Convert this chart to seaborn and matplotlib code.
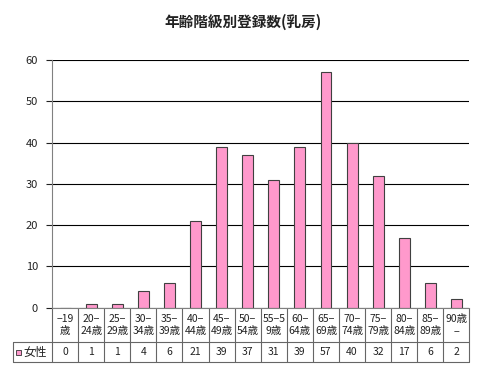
import matplotlib
matplotlib.use("Agg")
import matplotlib.pyplot as plt
import matplotlib.transforms as mtransforms
import seaborn as sns
import pandas as pd

# ----------------------------------------
# Data
# ----------------------------------------
age_groups = ["−19\n歳", "20−\n24歳", "25−\n29歳", "30−\n34歳", "35−\n39歳",
              "40−\n44歳", "45−\n49歳", "50−\n54歳", "55−5\n9歳", "60−\n64歳",
              "65−\n69歳", "70−\n74歳", "75−\n79歳", "80−\n84歳", "85−\n89歳",
              "90歳\n−"]
# counts for women (first group -19 has 0)
counts = [0, 1, 1, 4, 6, 21, 39, 37, 31, 39, 57, 40, 32, 17, 6, 2]
series_name = "女性"
title = "年齢階級別登録数(乳房)"

df = pd.DataFrame({"age": range(len(age_groups)), "count": counts})

sns.set_style("white")
plt.rcParams['font.family'] = ['Noto Sans CJK JP', 'DejaVu Sans']

bar_color = "#FF99CC"
line_color = "#666666"
text_color = "#222222"

fig = plt.figure(figsize=(4.8, 3.69), dpi=100)
W, H = 480, 369
left_px, right_px, top_px, bottom_px = 52, 469.5, 60, 307.7
ax = fig.add_axes([left_px / W, 1 - bottom_px / H,
                   (right_px - left_px) / W, (bottom_px - top_px) / H])

sns.barplot(data=df, x="age", y="count", color=bar_color, edgecolor="#404040",
            linewidth=0.8, width=0.42, saturation=1, ax=ax)

n = len(age_groups)
ax.set_xlim(-0.5, n - 0.5)
ax.set_ylim(0, 60)
ax.set_yticks(range(0, 61, 10))
ax.yaxis.grid(True, color="#000000", linewidth=0.8)
ax.set_axisbelow(True)
ax.set_xticks([])
ax.set_xlabel("")
ax.set_ylabel("")
ax.tick_params(axis="y", labelsize=8, colors=text_color, length=4,
               direction="out", left=True, width=0.8, pad=6)
for s in ["top", "right"]:
    ax.spines[s].set_visible(False)
ax.spines["left"].set_color("#808080")
ax.spines["bottom"].set_color("#808080")

# ----------------------------------------
# Data table below the axis
# ----------------------------------------
trans = mtransforms.blended_transform_factory(ax.transData, ax.transAxes)
ax_h = bottom_px - top_px
r1 = -(342.3 - bottom_px) / ax_h
r2 = -(362.3 - bottom_px) / ax_h

for i in range(n + 1):
    ax.plot([i - 0.5, i - 0.5], [0, r2], color=line_color, lw=0.8,
            transform=trans, clip_on=False)
ax.plot([-0.5, n - 0.5], [r1, r1], color=line_color, lw=0.8,
        transform=trans, clip_on=False)
ax.plot([-0.5, n - 0.5], [r2, r2], color=line_color, lw=0.8,
        transform=trans, clip_on=False)

for i, (lab, v) in enumerate(zip(age_groups, counts)):
    ax.text(i, r1 / 2, lab, transform=trans, ha="center", va="center",
            fontsize=7.5, linespacing=1.35, color=text_color)
    ax.text(i, (r1 + r2) / 2, str(v), transform=trans, ha="center",
            va="center", fontsize=7.5, color=text_color)

# legend cell
lx0 = 12.7 / W
fy1 = 1 - 342.3 / H
fy2 = 1 - 362.3 / H
fig.add_artist(plt.Line2D([lx0, left_px / W], [fy1, fy1], color=line_color, lw=0.8))
fig.add_artist(plt.Line2D([lx0, left_px / W], [fy2, fy2], color=line_color, lw=0.8))
fig.add_artist(plt.Line2D([lx0, lx0], [fy1, fy2], color=line_color, lw=0.8))
fig.add_artist(plt.Rectangle((15.5 / W, 1 - 355 / H), 5 / W, 5 / H,
                             facecolor=bar_color, edgecolor="#333333", lw=0.6))
fig.text(23 / W, (fy1 + fy2) / 2, series_name, ha="left", va="center",
         fontsize=8.5, color=text_color)

fig.text(243 / W, 1 - 22 / H, title, ha="center", va="center",
         fontsize=10.5, fontweight="bold", color=text_color)

fig.savefig("out.png", dpi=100)
